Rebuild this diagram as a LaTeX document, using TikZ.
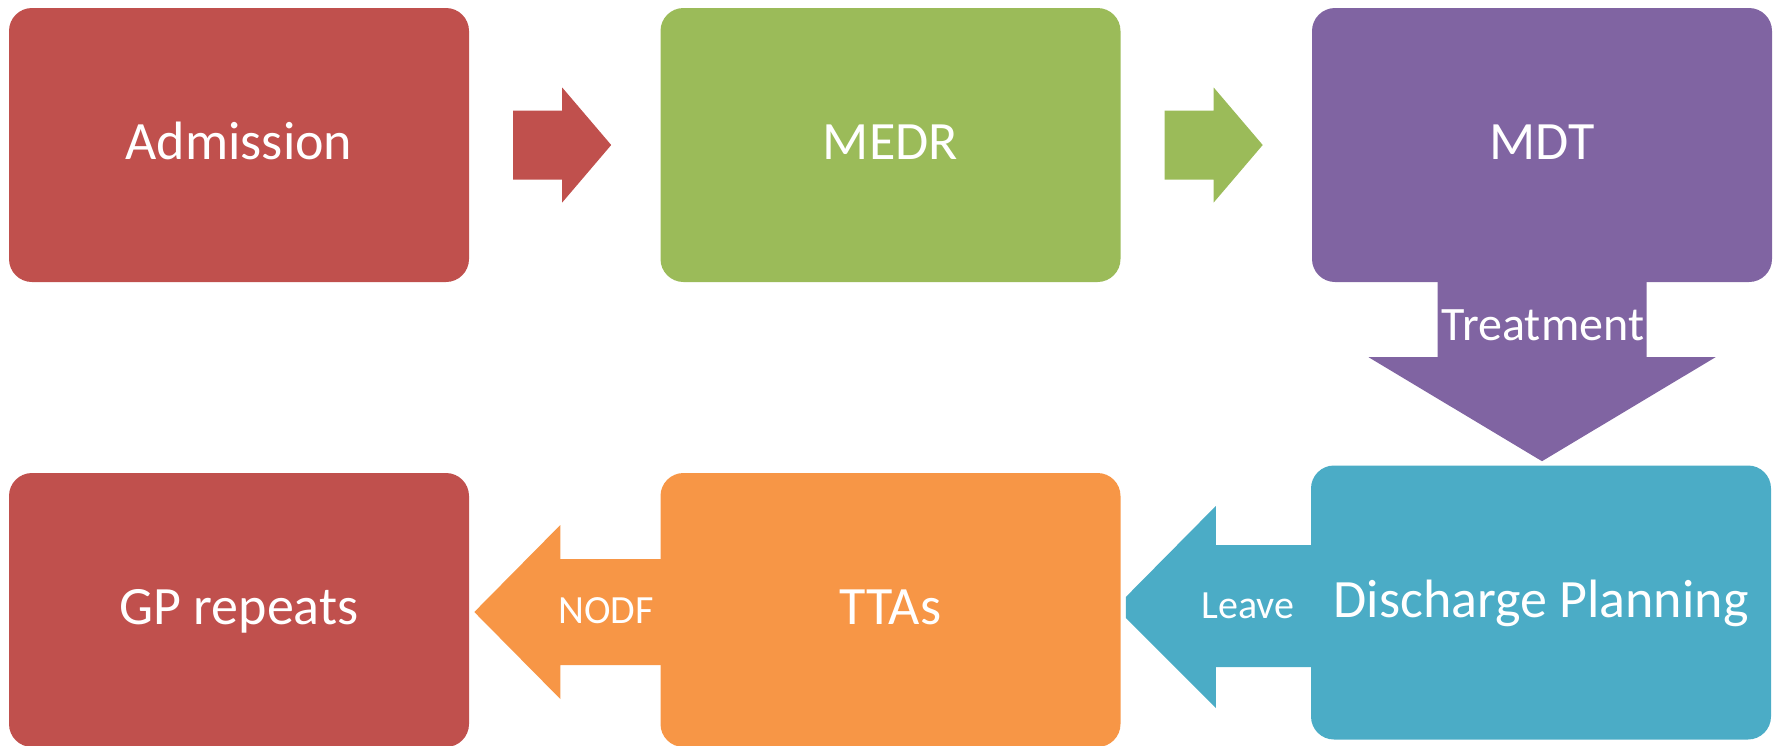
\documentclass[tikz,border=0pt]{standalone}
\usepackage{fontspec}
\setmainfont{Carlito}
\usepackage{tikz}
\usetikzlibrary{shapes,arrows,positioning}

\definecolor{stagered}{HTML}{C0504D}
\definecolor{stagegreen}{HTML}{9BBB59}
\definecolor{stagepurple}{HTML}{8064A2}
\definecolor{stageblue}{HTML}{4BACC6}
\definecolor{stageorange}{HTML}{F79646}

\tikzset{
	stage/.style={rectangle, rounded corners=23pt, minimum width=460pt, minimum height=274pt, inner sep=0pt, text=white, text height=35pt, text depth=6pt, font=\fontsize{54}{60}\selectfont},
	flowtext/.style={text=white, inner sep=0pt, anchor=base}
}

\begin{document}
\begin{tikzpicture}[x=1pt, y=-1pt]
				\useasboundingbox (0,0) rectangle (1781,745);
				\node (adm)  [stage, fill=stagered]    at (239,145)    {Admission};
				\node (medr) [stage, fill=stagegreen]  at (890.5,145)  {MEDR};
				\node (mdt)  [stage, fill=stagepurple] at (1542,145)   {MDT};
				\node (dis)  [stage, fill=stageblue]   at (1541,602.5) {Discharge Planning};
				\node (tta)  [stage, fill=stageorange] at (890.5,610)  {TTAs};
				\node (gp)   [stage, fill=stagered]    at (239,610)    {GP repeats};
				\fill [stagered] (adm.east) ++(44,-34.5) -- ++(49,0) -- ++(0,-23) -- ++(49,57.5) -- ++(-49,57.5) -- ++(0,-23) -- ++(-49,0) -- cycle;
				\fill [stagegreen] (medr.east) ++(44,-34.5) -- ++(49,0) -- ++(0,-23) -- ++(49,57.5) -- ++(-49,57.5) -- ++(0,-23) -- ++(-49,0) -- cycle;
				\fill [stagepurple] (mdt.south) ++(-104.5,-2) -- ++(0,77) -- ++(-69,0) -- ++(173.5,104) -- ++(173.5,-104) -- ++(-69,0) -- ++(0,-77) -- cycle;
				\fill [stageblue] (dis.west) ++(2,-57.5) -- ++(-97,0) -- ++(0,-39) -- ++(-90,91) -- ++(0,21) -- ++(90,90) -- ++(0,-41) -- ++(97,0) -- cycle;
				\fill [stageorange] (tta.west) ++(2,-51) -- ++(-102,0) -- ++(0,-34) -- ++(-86,87) -- ++(86,87) -- ++(0,-34) -- ++(102,0) -- cycle;
				\node (treat) [flowtext, font=\fontsize{48}{56}\selectfont] at (1543,340) {Treatment};
				\node (leave) [flowtext, font=\fontsize{40}{48}\selectfont] at (1248,618) {Leave};
				\node (nodf)  [flowtext, font=\fontsize{40}{48}\selectfont] at (606,623)  {NODF};
				\end{tikzpicture}
\end{document}
